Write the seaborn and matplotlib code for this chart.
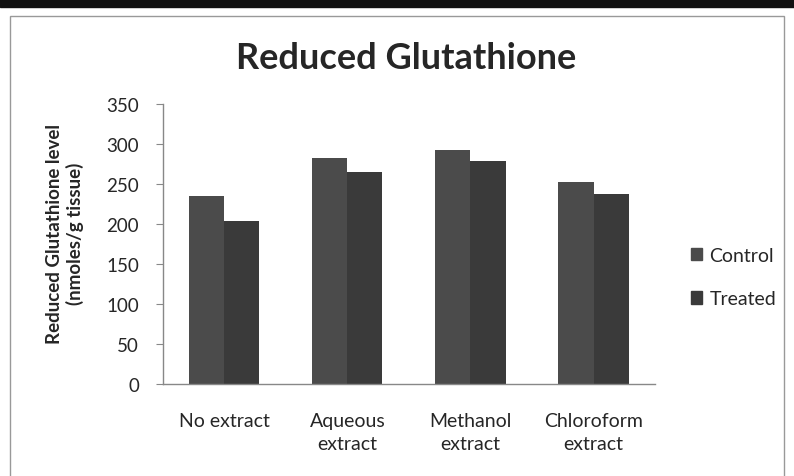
"""Reduced glutathione levels: control vs treated per extract."""
import pandas as pd
import matplotlib.pyplot as plt
import matplotlib.patches as mpatches
import seaborn as sns

categories = ['No extract', 'Aqueous\nextract', 'Methanol\nextract', 'Chloroform\nextract']
control = [235, 283, 292, 252]
treated = [204, 265, 279, 237]
series = ['Control', 'Treated']

df = pd.DataFrame({
    'category': categories * 2,
    'group': ['Control'] * 4 + ['Treated'] * 4,
    'value': control + treated,
})

sns.set_style('white')
plt.rcParams['font.family'] = ['Lato', 'DejaVu Sans']

fig = plt.figure(figsize=(7.94, 4.77), dpi=100)
ax = fig.add_axes([0.205, 0.193, 0.620, 0.587])

palette = {'Control': '#4b4b4b', 'Treated': '#3a3a3a'}
sns.barplot(data=df, x='category', y='value', hue='group', palette=palette,
            width=0.57, edgecolor='none', saturation=1, ax=ax, legend=False)

ax.set_xlim(-0.5, 3.5)
ax.set_ylim(0, 350)
ax.set_yticks(range(0, 351, 50))
ax.tick_params(axis='y', length=5, color='#888888', labelsize=13.5, direction='out',
               left=True, pad=12)
ax.tick_params(axis='x', length=0, labelsize=14, pad=20)
for lab in ax.get_xticklabels():
    lab.set_linespacing(1.45)
ax.set_xlabel('')
ax.set_ylabel('Reduced Glutathione level\n(nmoles/g tissue)', fontsize=13.5,
              fontweight='bold')
ax.yaxis.set_label_coords(-0.16, 0.54)
for side in ['top', 'right']:
    ax.spines[side].set_visible(False)
for side in ['left', 'bottom']:
    ax.spines[side].set_color('#888888')
    ax.spines[side].set_linewidth(1)

fig.text(0.512, 0.878, 'Reduced Glutathione', ha='center', va='center',
         fontsize=26, fontweight='bold')

handles = [mpatches.Patch(color=palette[s], label=s) for s in series]
fig.legend(handles=handles, loc='center left', bbox_to_anchor=(0.848, 0.417),
           frameon=False, fontsize=14, handlelength=0.6, handleheight=0.6,
           handletextpad=0.35, labelspacing=1.35)

# scanned frame: dark band on top, thin grey border
fig.patches.append(mpatches.Rectangle((0, 0.983), 1, 0.017, transform=fig.transFigure,
                                      color='#111111', zorder=0))
fig.patches.append(mpatches.Rectangle((0.013, -0.02), 0.975, 0.985, transform=fig.transFigure,
                                      fill=False, edgecolor='#999999', linewidth=1, zorder=0))

fig.savefig('out.png', dpi=100)
